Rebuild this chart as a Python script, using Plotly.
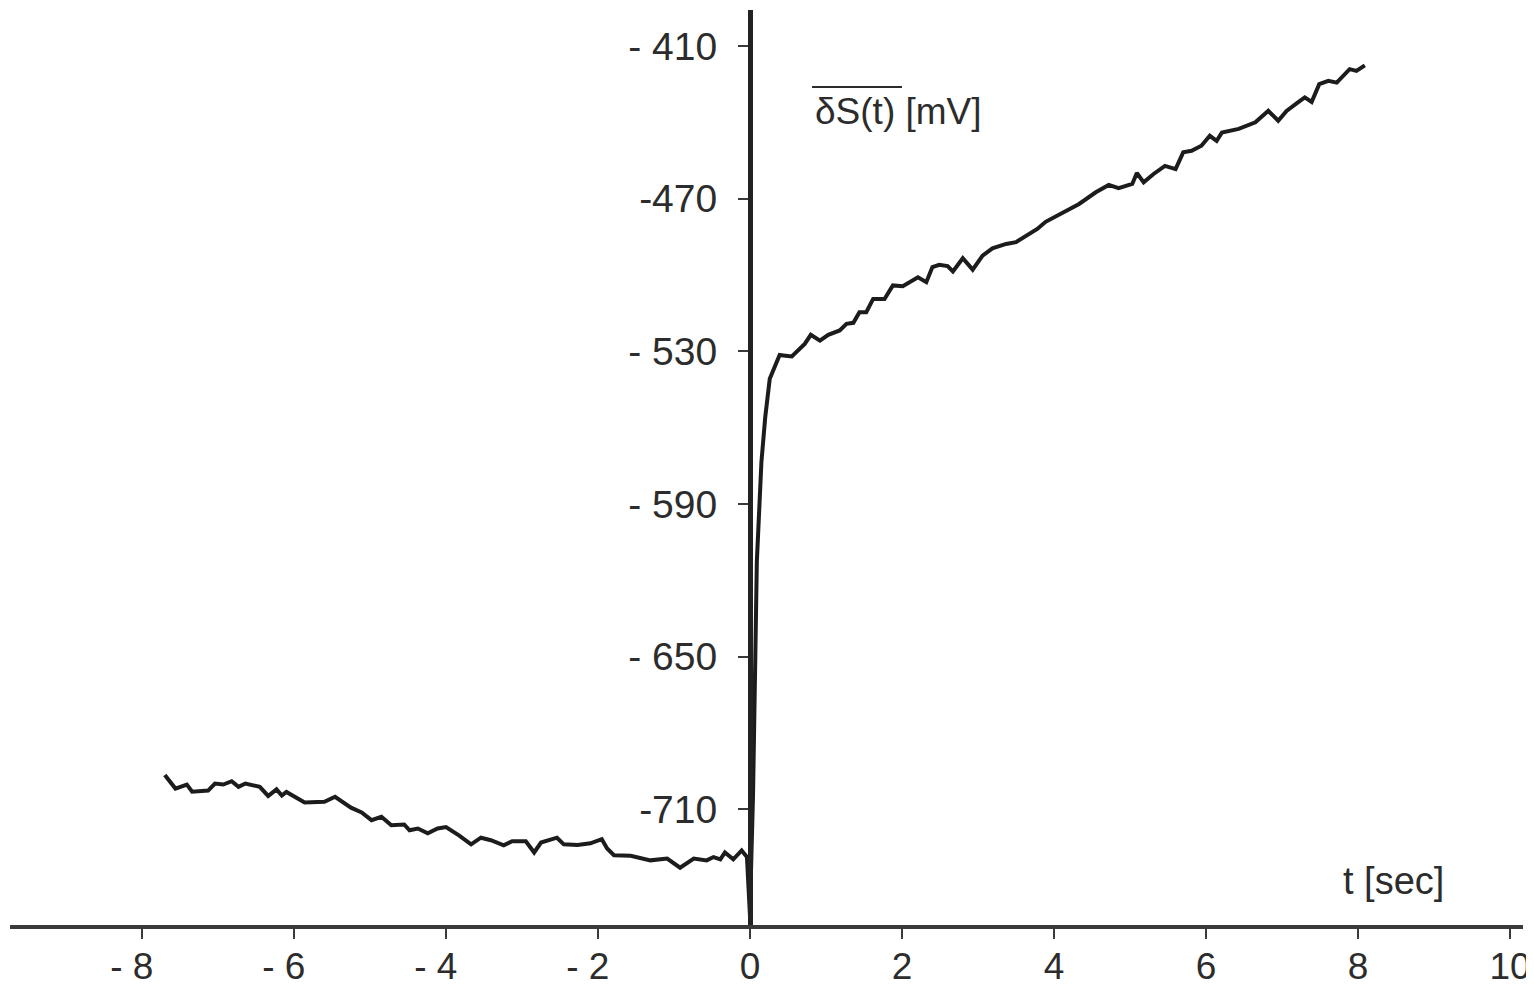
import plotly.graph_objects as go

# ---- data ----
t_sec = [-7.70, -7.56, -7.41, -7.34, -7.13, -7.04, -6.93, -6.82, -6.73, -6.64,
         -6.45, -6.34, -6.23, -6.16, -6.10, -5.86, -5.60, -5.46, -5.25, -5.11,
         -4.98, -4.85, -4.72, -4.55, -4.48, -4.37, -4.24, -4.11, -4.00, -3.93,
         -3.83, -3.67, -3.54, -3.41, -3.24, -3.13, -2.95, -2.84, -2.75, -2.54,
         -2.45, -2.27, -2.10, -1.95, -1.88, -1.79, -1.57, -1.31, -1.09, -0.92,
         -0.74, -0.57, -0.48, -0.39, -0.33, -0.22, -0.11, -0.04,
         0.00, 0.01, 0.04, 0.07, 0.09, 0.15, 0.20, 0.26, 0.39, 0.44, 0.55,
         0.72, 0.80, 0.92, 1.03, 1.18, 1.27, 1.36, 1.44, 1.53, 1.62, 1.77,
         1.88, 2.01, 2.21, 2.32, 2.40, 2.49, 2.60, 2.67, 2.80, 2.93, 3.06,
         3.19, 3.37, 3.50, 3.63, 3.78, 3.89, 4.11, 4.33, 4.55, 4.72, 4.85,
         5.03, 5.09, 5.18, 5.31, 5.46, 5.60, 5.70, 5.81, 5.94, 6.05, 6.14,
         6.21, 6.43, 6.65, 6.82, 6.95, 7.06, 7.21, 7.30, 7.39, 7.49, 7.61,
         7.72, 7.89, 7.98, 8.09]
dS_mV = [-696.5, -701.8, -700.2, -703.0, -702.6, -699.8, -700.2, -698.9, -701.1, -699.8,
         -701.1, -704.7, -702.1, -704.5, -703.1, -707.3, -707.0, -705.0, -709.3, -711.2,
         -714.2, -712.9, -716.2, -715.9, -718.2, -717.5, -719.4, -717.5, -716.9, -718.1,
         -720.2, -723.7, -721.1, -722.1, -724.1, -722.5, -722.5, -726.9, -723.0, -721.1,
         -723.7, -724.0, -723.3, -721.7, -725.3, -728.0, -728.2, -730.0, -729.3, -732.9,
         -729.3, -730.0, -728.7, -729.6, -726.9, -729.6, -726.1, -728.7,
         -752.0, -738.0, -704.0, -650.0, -612.6, -573.6, -556.0, -540.8, -531.4, -531.6, -532.0,
         -527.1, -523.5, -525.8, -523.5, -521.8, -519.2, -518.8, -514.6, -514.6, -509.4, -509.4,
         -504.1, -504.4, -500.9, -502.8, -496.9, -496.0, -496.5, -498.6, -493.4, -497.9, -492.4,
         -489.5, -487.8, -487.1, -484.8, -481.9, -479.1, -475.5, -472.1, -467.5, -464.6, -465.9,
         -464.2, -459.9, -463.6, -460.3, -457.1, -458.4, -451.8, -451.2, -449.2, -445.3, -447.3,
         -444.0, -442.6, -440.0, -435.5, -439.4, -435.5, -432.2, -430.2, -432.0, -425.0, -423.7,
         -424.4, -419.1, -419.8, -417.6]

NB = "\u00a0"
x_tickvals = [-8, -6, -4, -2, 0, 2, 4, 6, 8, 10]
x_ticktext = ["-" + NB + "8" + NB * 2, "-" + NB + "6" + NB * 2,
              "-" + NB + "4" + NB * 2, "-" + NB + "2" + NB * 2,
              "0", "2", "4", "6", "8", "10"]
y_tickvals = [-410, -470, -530, -590, -650, -710]
y_ticktext = ["- 410", "-470", "- 530", "- 590", "- 650", "-710"]

FONT = "Liberation Sans Narrow, Arial Narrow, sans-serif"
INK = "#2c2c2c"

# figure is drawn 8px inside the window (page body margin)
W, H = 1526, 982
L, R, T, B = 2, 11, 2, 65
PW, PH = W - L - R, H - T - B


def px(xref_px):
    return (xref_px - 8 - L) / PW


def py(yref_px):
    return (H - B - (yref_px - 8)) / PH


fig = go.Figure()
fig.add_trace(go.Scatter(x=t_sec, y=dS_mV, mode="lines",
                         line=dict(color="#1c1c1c", width=4), hoverinfo="skip",
                         showlegend=False))

fig.update_layout(
    width=W, height=H,
    paper_bgcolor="white", plot_bgcolor="white",
    margin=dict(l=L, r=R, t=T, b=B, autoexpand=False),
    font=dict(family=FONT, size=38, color=INK),
    xaxis=dict(range=[-740 / 76, (PW - 740) / 76], domain=[0, 1], automargin=False,
               showgrid=False, zeroline=False,
               showline=True, linewidth=4, linecolor="#3a3a3a",
               ticks="outside", ticklen=10, tickwidth=2, tickcolor="#3a3a3a",
               tickvals=x_tickvals, ticktext=x_ticktext,
               ticklabelstandoff=-4, ticklabeloverflow="allow",
               tickfont=dict(family=FONT, size=37, color=INK)),
    yaxis=dict(range=[-755.4, -755.4 + PH / 2.545], anchor="free", position=740 / PW,
               automargin=False,
               showgrid=False, zeroline=False,
               showline=True, linewidth=5, linecolor="#222222",
               ticks="outside", ticklen=10, tickwidth=2, tickcolor="#3a3a3a",
               tickvals=y_tickvals, ticktext=y_ticktext,
               ticklabelstandoff=13,
               tickfont=dict(family=FONT, size=39, color=INK)),
)

fig.add_annotation(xref="paper", yref="paper", x=px(813), y=py(112),
                   xanchor="left", yanchor="middle", showarrow=False,
                   text="δS(t) [mV]", font=dict(family=FONT, size=37, color=INK))
fig.add_shape(type="line", xref="paper", yref="paper",
              x0=px(812), x1=px(902), y0=py(87), y1=py(87),
              line=dict(color=INK, width=2))
fig.add_annotation(xref="paper", yref="paper", x=px(1393), y=py(881),
                   xanchor="center", yanchor="middle", showarrow=False,
                   text="t [sec]", font=dict(family=FONT, size=38, color=INK))

fig.write_html("out.html")
